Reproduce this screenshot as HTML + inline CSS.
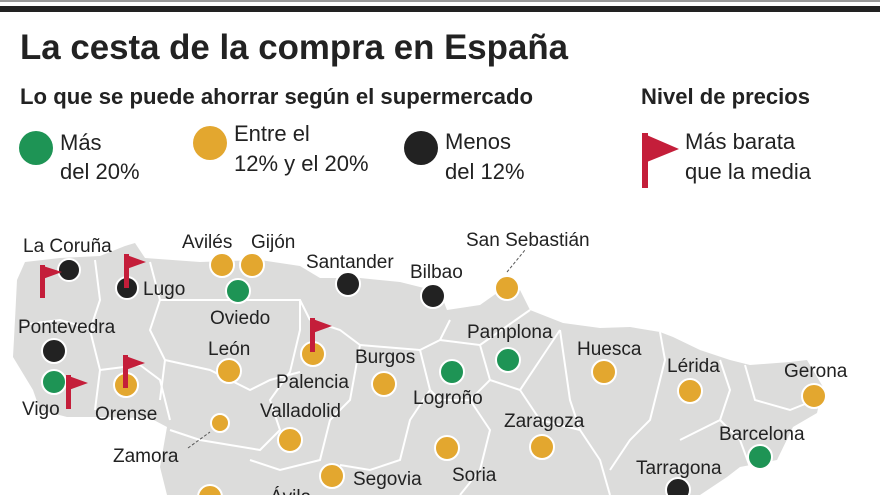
<!DOCTYPE html>
<html><head><meta charset="utf-8"><style>
html,body{margin:0;padding:0;background:#fff;width:880px;height:495px;overflow:hidden}
text{font-family:"Liberation Sans Narrow","Liberation Sans",sans-serif;fill:#222}
</style></head><body>
<svg width="880" height="495" viewBox="0 0 880 495" xmlns="http://www.w3.org/2000/svg">
<rect x="0" y="0" width="880" height="2" fill="#999"/>
<rect x="0" y="6" width="880" height="6" fill="#222"/>
<text x="20" y="59" font-size="35" font-weight="bold" textLength="548" lengthAdjust="spacingAndGlyphs">La cesta de la compra en España</text>
<text x="20" y="104" font-size="22" font-weight="bold" textLength="513" lengthAdjust="spacingAndGlyphs">Lo que se puede ahorrar según el supermercado</text>
<text x="641" y="104" font-size="22" font-weight="bold" textLength="169" lengthAdjust="spacingAndGlyphs">Nivel de precios</text>
<g font-size="22">
<circle cx="36" cy="148" r="17" fill="#1e9455"/>
<text x="60" y="150">Más</text><text x="60" y="179">del 20%</text>
<circle cx="210" cy="143" r="17" fill="#e3a72f"/>
<text x="234" y="141">Entre el</text><text x="234" y="171">12% y el 20%</text>
<circle cx="421" cy="148" r="17" fill="#222"/>
<text x="445" y="149">Menos</text><text x="445" y="179">del 12%</text>
<rect x="642" y="133" width="6" height="55" fill="#c41e3a"/>
<polygon points="642,133 679,149 642,164" fill="#c41e3a"/>
<text x="685" y="149">Más barata</text><text x="685" y="179">que la media</text>
</g>
<polygon fill="#dcdcdb" points="17,280 25,262 60,258 100,256 125,246 135,243 145,258 200,262 260,260 300,266 320,278 360,278 400,282 440,292 447,310 480,305 497,293 520,290 530,310 563,323 600,328 630,327 660,332 673,337 700,350 730,360 750,365 790,362 807,360 823,387 817,413 793,427 777,460 740,467 727,477 700,495 167,495 160,467 167,427 150,418 100,417 67,417 40,410 33,390 13,357 15,320"/>
<g fill="none" stroke="#fff" stroke-width="2">
<path d="M95,260 L100,300 L90,330 L100,370 L95,410"/>
<path d="M20,325 L60,320 L95,330"/>
<path d="M100,370 L140,365 L160,380 L170,420"/>
<path d="M150,262 L160,300 L150,330 L165,360 L160,400"/>
<path d="M160,300 L220,300 L300,300 L310,320"/>
<path d="M165,360 L210,370 L250,390 L270,380 L300,372"/>
<path d="M300,300 L300,330 L290,372 L270,400 L280,430 L260,450 L230,445 L200,440 L170,430"/>
<path d="M310,320 L340,330 L360,345 L350,400 L330,420 L320,460 L280,470 L250,460"/>
<path d="M360,345 L420,350 L440,340 L450,320"/>
<path d="M420,350 L430,390 L410,420 L400,460 L370,470 L340,465"/>
<path d="M440,340 L480,345 L490,380 L470,400 L440,400 L430,390"/>
<path d="M480,345 L530,310"/>
<path d="M490,380 L520,390 L540,360 L560,330"/>
<path d="M470,400 L490,430 L480,470 L460,495"/>
<path d="M520,390 L540,420 L580,430 L600,460 L610,495"/>
<path d="M560,330 L570,400 L580,430"/>
<path d="M660,332 L665,360 L650,420 L630,440 L610,470"/>
<path d="M720,360 L730,390 L720,420 L700,430 L680,440"/>
<path d="M745,365 L755,400 L790,410 L815,400"/>
<path d="M720,420 L740,440 L750,467"/>
</g>
<g stroke="#555" stroke-width="1" stroke-dasharray="3,2"><line x1="507" y1="272" x2="525" y2="250"/><line x1="188" y1="448" x2="210" y2="432"/></g>
<g stroke="#fff" stroke-width="2">
<circle cx="69" cy="270" r="11" fill="#222"/>
<circle cx="127" cy="288" r="11" fill="#222"/>
<circle cx="222" cy="265" r="12" fill="#e3a72f"/>
<circle cx="252" cy="265" r="12" fill="#e3a72f"/>
<circle cx="238" cy="291" r="12" fill="#1e9455"/>
<circle cx="348" cy="284" r="12" fill="#222"/>
<circle cx="433" cy="296" r="12" fill="#222"/>
<circle cx="507" cy="288" r="12" fill="#e3a72f"/>
<circle cx="54" cy="351" r="12" fill="#222"/>
<circle cx="54" cy="382" r="12" fill="#1e9455"/>
<circle cx="126" cy="385" r="12" fill="#e3a72f"/>
<circle cx="229" cy="371" r="12" fill="#e3a72f"/>
<circle cx="313" cy="354" r="12" fill="#e3a72f"/>
<circle cx="384" cy="384" r="12" fill="#e3a72f"/>
<circle cx="290" cy="440" r="12" fill="#e3a72f"/>
<circle cx="220" cy="423" r="9" fill="#e3a72f"/>
<circle cx="332" cy="476" r="12" fill="#e3a72f"/>
<circle cx="210" cy="497" r="12" fill="#e3a72f"/>
<circle cx="452" cy="372" r="12" fill="#1e9455"/>
<circle cx="508" cy="360" r="12" fill="#1e9455"/>
<circle cx="604" cy="372" r="12" fill="#e3a72f"/>
<circle cx="690" cy="391" r="12" fill="#e3a72f"/>
<circle cx="814" cy="396" r="12" fill="#e3a72f"/>
<circle cx="760" cy="457" r="12" fill="#1e9455"/>
<circle cx="678" cy="490" r="12" fill="#222"/>
<circle cx="542" cy="447" r="12" fill="#e3a72f"/>
<circle cx="447" cy="448" r="12" fill="#e3a72f"/>
</g>
<g fill="#c41e3a">
<rect x="40" y="265" width="5" height="33"/><polygon points="40,265 62,272 40,280"/>
<rect x="124" y="254" width="5" height="34"/><polygon points="124,254 146,262 124,270"/>
<rect x="66" y="375" width="5" height="34"/><polygon points="66,375 88,383 66,391"/>
<rect x="123" y="355" width="5" height="33"/><polygon points="123,355 145,363 123,371"/>
<rect x="310" y="318" width="5" height="34"/><polygon points="310,318 332,326 310,334"/>
</g>
<g font-size="19">
<text x="23" y="252">La Coruña</text>
<text x="143" y="295">Lugo</text>
<text x="182" y="248">Avilés</text>
<text x="251" y="248">Gijón</text>
<text x="210" y="324">Oviedo</text>
<text x="306" y="268">Santander</text>
<text x="410" y="278">Bilbao</text>
<text x="466" y="246">San Sebastián</text>
<text x="18" y="333">Pontevedra</text>
<text x="22" y="415">Vigo</text>
<text x="95" y="420">Orense</text>
<text x="208" y="355">León</text>
<text x="276" y="388">Palencia</text>
<text x="355" y="363">Burgos</text>
<text x="260" y="417">Valladolid</text>
<text x="113" y="462">Zamora</text>
<text x="353" y="485">Segovia</text>
<text x="270" y="503">Ávila</text>
<text x="413" y="404">Logroño</text>
<text x="467" y="338">Pamplona</text>
<text x="577" y="355">Huesca</text>
<text x="667" y="372">Lérida</text>
<text x="784" y="377">Gerona</text>
<text x="719" y="440">Barcelona</text>
<text x="636" y="474">Tarragona</text>
<text x="504" y="427">Zaragoza</text>
<text x="452" y="481">Soria</text>
</g>
</svg>
</body></html>
